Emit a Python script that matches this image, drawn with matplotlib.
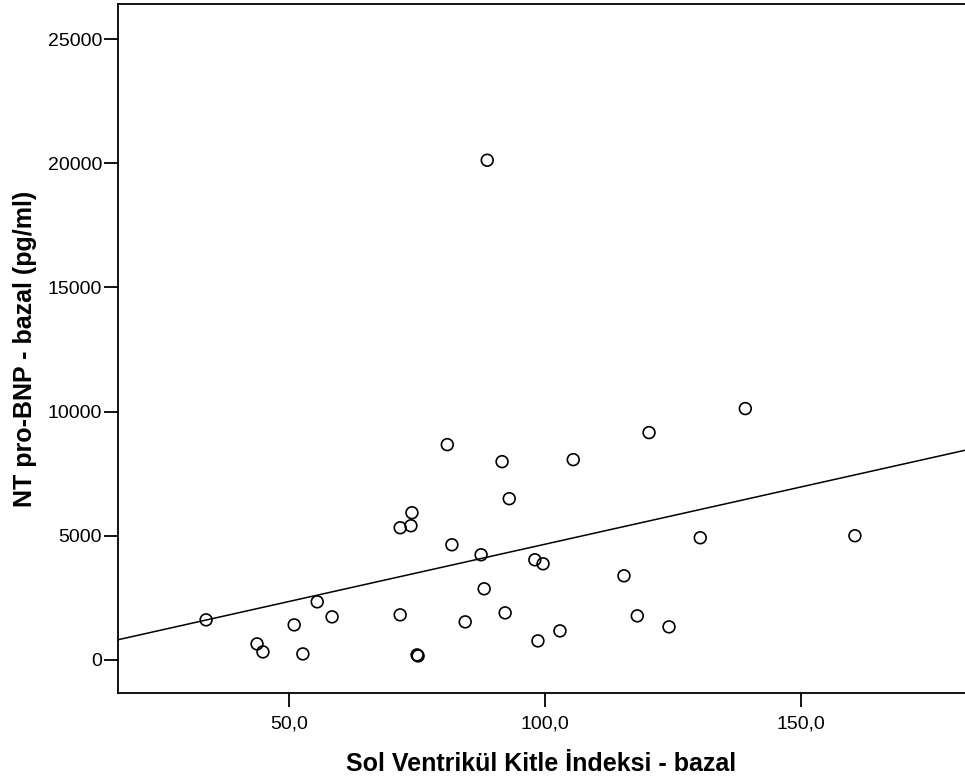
import numpy as np
import matplotlib
matplotlib.use('Agg')
import matplotlib.pyplot as plt

# Sol Ventrikul Kitle Indeksi (x) vs NT pro-BNP (y), bazal
lvmi = [33.8, 43.75, 44.9, 51.0, 52.7, 55.5, 58.4, 71.7, 71.7, 73.8, 74.0,
        75.0, 75.2, 80.9, 81.8, 84.4, 87.5, 88.1, 88.7, 91.6, 92.2, 93.0,
        98.0, 98.6, 99.6, 102.9, 105.5, 115.4, 118.0, 120.3, 124.2, 130.3,
        139.1, 160.5]
ntprobnp = [1613, 645, 323, 1411, 242, 2339, 1734, 5322, 1814, 5403, 5927,
            202, 161, 8669, 4637, 1532, 4234, 2863, 20120, 7983, 1895, 6492,
            4032, 766, 3871, 1169, 8064, 3387, 1774, 9153, 1331, 4919,
            10120, 5000]

xticks = [50, 100, 150]
xticklabels = ['50,0', '100,0', '150,0']
yticks = [0, 5000, 10000, 15000, 20000, 25000]

plt.rcParams['font.family'] = 'Liberation Sans'

fig = plt.figure(figsize=(9.65, 7.81), dpi=100)
ax = fig.add_axes([0.1223, 0.1127, 0.8777, 0.8822])

xmin, xmax = 16.6, 182.0
ax.set_xlim(xmin, xmax)
ax.set_ylim(-1331, 26411)

ax.scatter(lvmi, ntprobnp, s=72, facecolors='none', edgecolors='black', linewidths=1.2, zorder=3)

# linear fit line across the whole x range
k, b = np.polyfit(lvmi, ntprobnp, 1)
xs = np.array([xmin, xmax])
ax.plot(xs, k * xs + b, color='black', lw=1.1)

ax.spines['right'].set_visible(False)
for s in ['left', 'bottom', 'top']:
    ax.spines[s].set_linewidth(1.3)

ax.set_xticks(xticks)
ax.set_xticklabels(xticklabels, fontsize=14)
ax.set_yticks(yticks)
ax.set_yticklabels([str(v) for v in yticks], fontsize=14)
ax.tick_params(direction='out', length=10, width=1.3)
ax.tick_params(axis='y', pad=1.5)
ax.tick_params(axis='x', pad=6.5)
ax.tick_params(top=False, right=False)

ax.set_xlabel('Sol Ventrikül Kitle İndeksi - bazal', fontweight='bold', fontsize=18, labelpad=14)
ax.set_ylabel('NT pro-BNP - bazal (pg/ml)', fontweight='bold', fontsize=18, labelpad=8)

plt.savefig('out.png', dpi=100)
